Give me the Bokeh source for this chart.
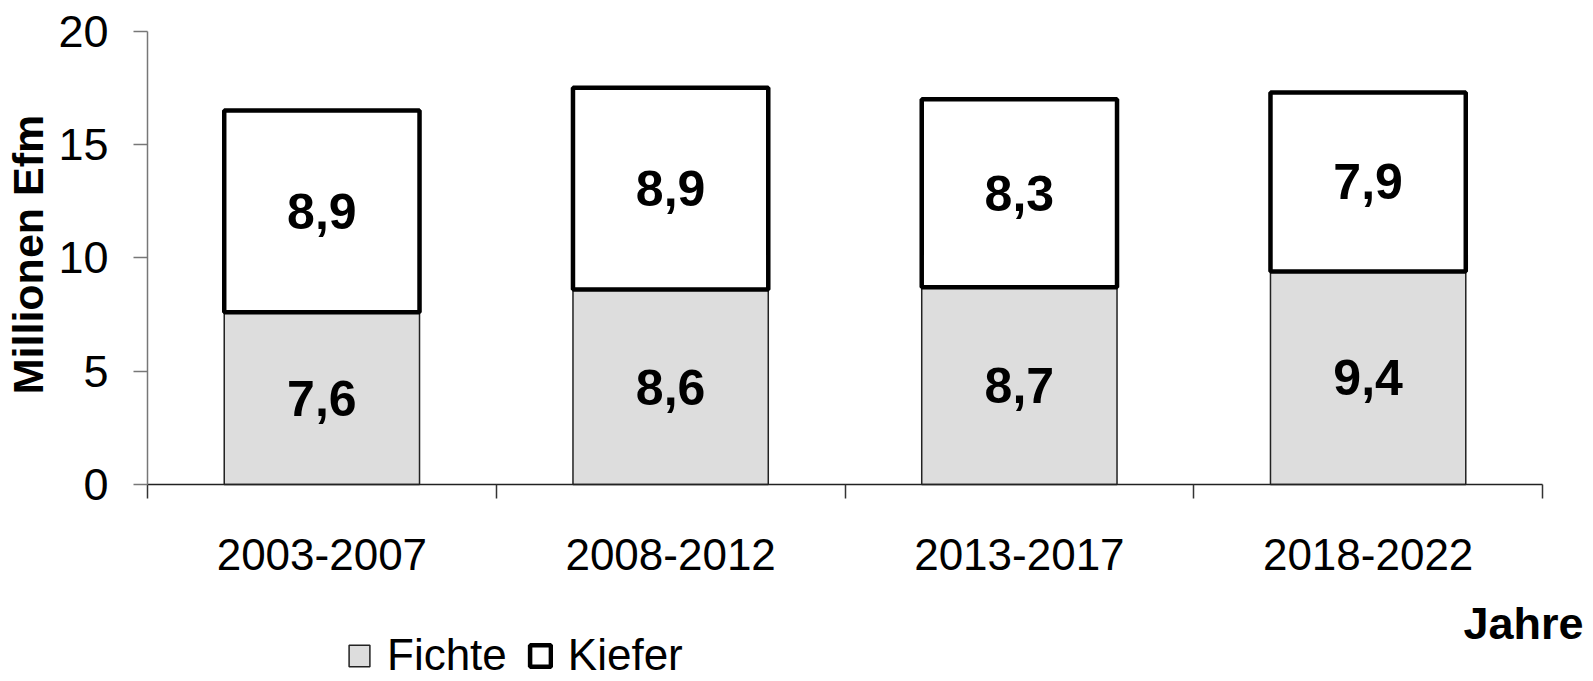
import math
from bokeh.plotting import figure
from bokeh.models import (FixedTicker, Legend, LegendItem, Label, ColumnDataSource,
                          Range1d, LinearAxis)
from bokeh.embed import file_html
from bokeh.resources import INLINE
from bokeh.core.properties import value

categories = ["2003-2007", "2008-2012", "2013-2017", "2018-2022"]
fichte = [7.6, 8.6, 8.7, 9.4]
kiefer = [8.9, 8.9, 8.3, 7.9]
y_ticks = [0, 5, 10, 15, 20]
series_names = ["Fichte", "Kiefer"]
y_title = "Millionen Efm"
x_title = "Jahre"

FONT = "Liberation Sans"


def fmt(v):
    return f"{v:.1f}".replace(".", ",")


n = len(categories)
xs = [i + 0.5 for i in range(n)]
tops = [f + k for f, k in zip(fichte, kiefer)]
src = ColumnDataSource(dict(
    x=xs, fichte=fichte, kiefer=kiefer, top=tops,
    fy=[f / 2 for f in fichte],
    ky=[f + k / 2 for f, k in zip(fichte, kiefer)],
    flab=[fmt(v) for v in fichte],
    klab=[fmt(v) for v in kiefer],
))

# layout in pixels (canvas = frame)
W, H = 1593, 681
PX_LEFT, PX_RIGHT = 147.0, 1542.0      # x of category 0 edge and last edge
PX_TOP, PX_BOTTOM = 30.7, 484.0        # y of value 20 and value 0
YMAX = 20
sx = (PX_RIGHT - PX_LEFT) / n
sy = (PX_BOTTOM - PX_TOP) / YMAX
x0 = -PX_LEFT / sx
x1 = x0 + W / sx
y1 = YMAX + PX_TOP / sy
y0 = y1 - H / sy


def dx(px):
    return (px - PX_LEFT) / sx


def dy(py):
    return (PX_BOTTOM - py) / sy


p = figure(width=W, height=H, output_backend="svg", toolbar_location=None,
           x_range=Range1d(x0, x1), y_range=Range1d(y0, y1),
           x_axis_location=None, y_axis_location=None,
           min_border=0, min_border_left=0, min_border_right=0,
           min_border_top=0, min_border_bottom=0)
p.xgrid.visible = False
p.ygrid.visible = False
p.outline_line_color = None
p.background_fill_color = "white"
p.border_fill_color = "white"

BW = 0.56
r_f = p.vbar(x="x", bottom=0, top="fichte", width=BW, source=src,
             fill_color="#dddddd", line_color="#222222", line_width=1.5)
r_k = p.vbar(x="x", bottom="fichte", top="top", width=BW, source=src,
             fill_color="white", line_color="black", line_width=4.5)

p.text(x="x", y="fy", text="flab", source=src, text_font=value(FONT),
       text_font_style="bold", text_font_size="50px", text_align="center",
       text_baseline="middle", text_color="black")
p.text(x="x", y="ky", text="klab", source=src, text_font=value(FONT),
       text_font_style="bold", text_font_size="50px", text_align="center",
       text_baseline="middle", text_color="black")

# x axis at y = 0
xa = LinearAxis(fixed_location=0, bounds=(0, n))
xa.ticker = FixedTicker(ticks=xs, minor_ticks=list(range(n + 1)))
xa.major_label_overrides = {x: c for x, c in zip(xs, categories)}
xa.major_tick_out = 0
xa.major_tick_in = 0
xa.minor_tick_out = 14
xa.minor_tick_in = 0
xa.minor_tick_line_color = "#333333"
xa.minor_tick_line_width = 1.5
xa.axis_line_color = "#222222"
xa.axis_line_width = 1.5
xa.major_label_text_font = FONT
xa.major_label_text_font_size = "44px"
xa.major_label_text_color = "black"
xa.major_label_standoff = 40
p.add_layout(xa, "below")

# y axis at x = 0
ya = LinearAxis(fixed_location=0, bounds=(0, YMAX))
ya.ticker = FixedTicker(ticks=y_ticks, minor_ticks=[])
ya.major_tick_out = 14
ya.major_tick_in = 0
ya.major_tick_line_color = "#777777"
ya.major_tick_line_width = 1.5
ya.axis_line_color = "#777777"
ya.axis_line_width = 1.5
ya.major_label_text_font = FONT
ya.major_label_text_font_size = "45px"
ya.major_label_text_color = "black"
ya.major_label_standoff = 25
p.add_layout(ya, "left")

# y title
p.add_layout(Label(x=dx(27), y=dy(254), text=y_title, angle=math.pi / 2,
                   text_font=FONT, text_font_style="bold", text_font_size="43px",
                   text_align="center", text_baseline="middle", text_color="black"))
# x title
p.add_layout(Label(x=dx(1583), y=dy(623), text=x_title,
                   text_font=FONT, text_font_style="bold", text_font_size="45px",
                   text_align="right", text_baseline="alphabetic", text_color="black"))

legend = Legend(items=[LegendItem(label=series_names[0], renderers=[r_f]),
                       LegendItem(label=series_names[1], renderers=[r_k])],
                location=(346, 1), orientation="horizontal",
                glyph_width=26, glyph_height=27, label_standoff=15, spacing=20,
                padding=0, margin=0, border_line_color=None,
                background_fill_alpha=0, label_text_font=FONT,
                label_text_font_size="44px", label_text_color="black")
p.add_layout(legend, "center")

open("out.html", "w").write(file_html(p, INLINE))
